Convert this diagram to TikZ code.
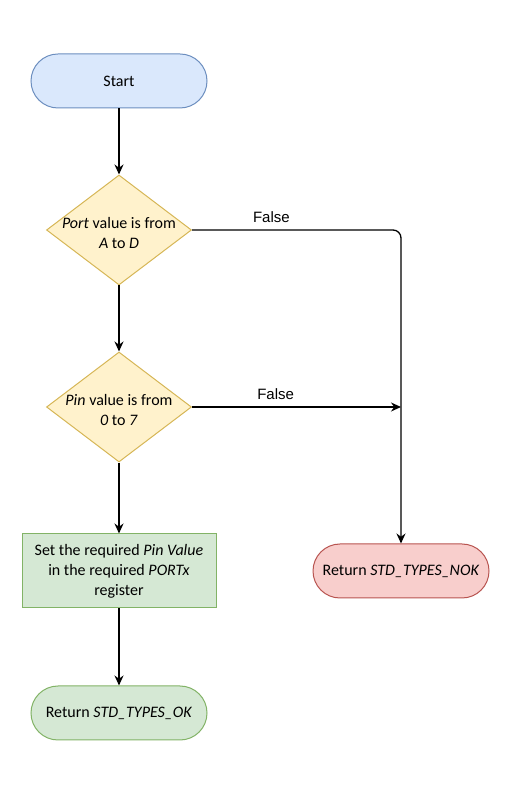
\documentclass[tikz,border=0pt]{standalone}
\usepackage{fontspec}
\setmainfont{Carlito}
\newfontfamily\arialfont{Liberation Sans}
\usetikzlibrary{arrows.meta}
\usetikzlibrary{calc,positioning}
\usetikzlibrary{shapes.geometric}

\definecolor{startfill}{HTML}{DAE8FC}
\definecolor{startdraw}{HTML}{6C8EBF}
\definecolor{testfill}{HTML}{FFF2CC}
\definecolor{testdraw}{HTML}{D6B656}
\definecolor{okfill}{HTML}{D5E8D4}
\definecolor{okdraw}{HTML}{82B366}
\definecolor{nokfill}{HTML}{F8CECC}
\definecolor{nokdraw}{HTML}{B85450}

\begin{document}
\begin{tikzpicture}[x=1pt, y=1pt,
    every node/.style={font=\fontsize{16}{20}\selectfont, text=black},
    terminal/.style={rectangle, draw, rounded corners=27pt, line width=1pt,
    minimum width=176pt, minimum height=54pt},
    test/.style={diamond, draw=testdraw, fill=testfill, line width=1pt,
    minimum width=145pt, minimum height=110pt, inner sep=0pt},
    action/.style={rectangle, draw=okdraw, fill=okfill, line width=1pt,
    minimum width=194pt, minimum height=74pt, align=center},
    flow/.style={draw, line width=1.3pt, -{Stealth[length=10pt, width=9pt]}},
    branch/.style={font=\arialfont\fontsize{15}{18}\selectfont}]
    \useasboundingbox (0,0) rectangle (515,787);

    \node (start) [terminal, draw=startdraw, fill=startfill] at (119,706) {Start};

    \node (port) [test, below=66pt of start, label={[align=center, yshift=-3pt]center:\textit{Port} value is from\\ \textit{A} to \textit{D}}] {};

    \node (pin) [test, below=66pt of port, label={[align=center, yshift=-3pt]center:\textit{Pin} value is from\\ \textit{0} to \textit{7}}] {};

    \node (setpin) [action, below=71pt of pin] {
        Set the required \textit{Pin Value}\\ in the required \textit{PORTx}\\ register
    };

    \node (ok) [terminal, draw=okdraw, fill=okfill, below=77pt of setpin] {Return \textit{STD\_TYPES\_OK}};

    \node (nok) [terminal, draw=nokdraw, fill=nokfill, right=96pt of setpin] {Return \textit{STD\_TYPES\_NOK}};

    \coordinate (join) at (nok.north |- pin.east);

    \draw [flow] (start) -- (port);
    \draw [flow] (port) -- (pin);
    \draw [flow] (pin) -- (setpin);
    \draw [flow] (setpin) -- (ok);
    \draw [flow, rounded corners=8pt] (port.east) -| node [branch, pos=0.19, above=3pt] {False} (nok.north);
    \draw [flow] (pin.east) -- node [branch, pos=0.4, above=3pt] {False} (join);
\end{tikzpicture}
\end{document}
